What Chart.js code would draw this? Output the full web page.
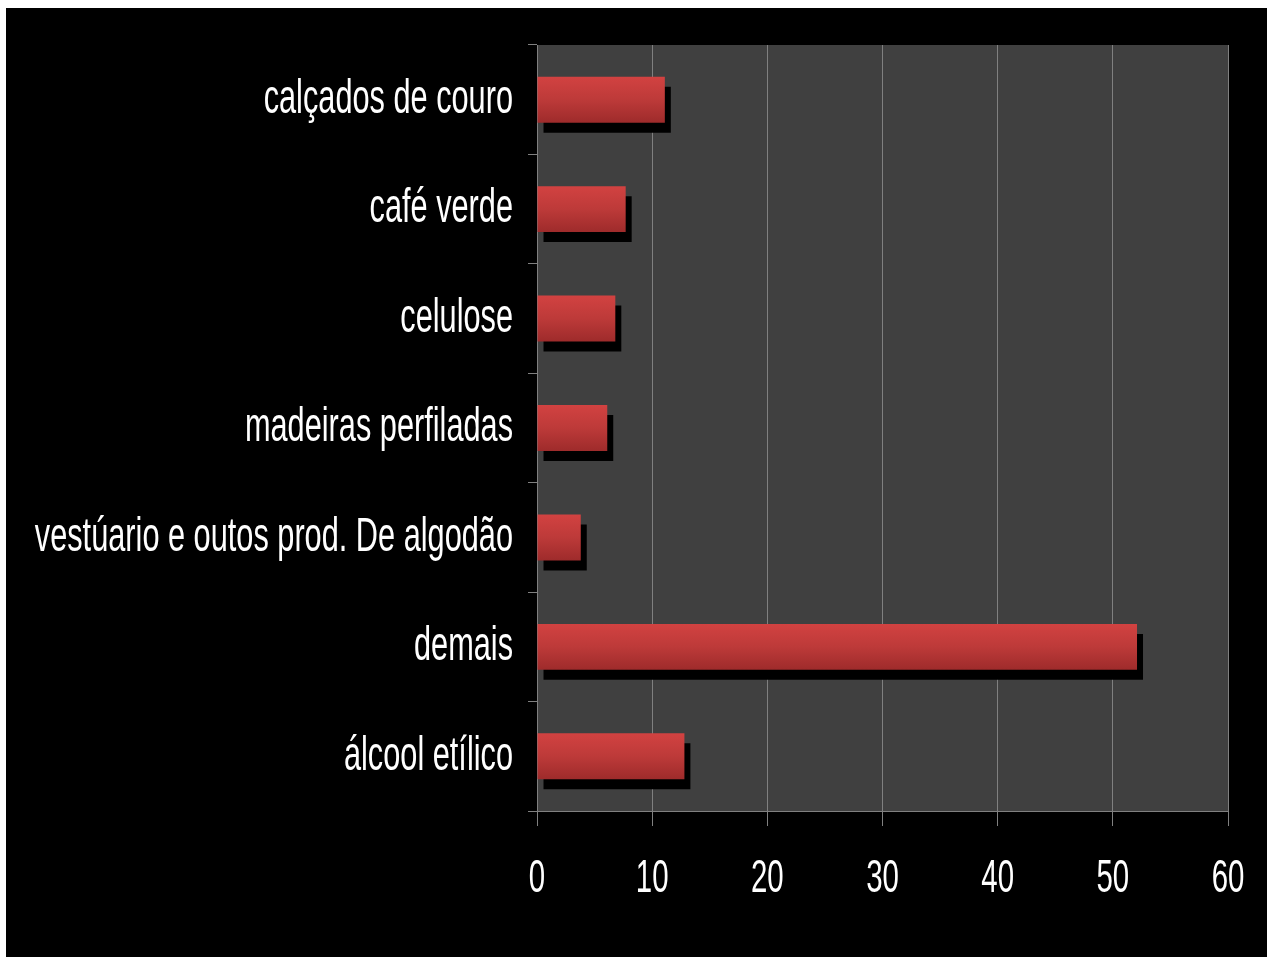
<!DOCTYPE html>
<html lang="pt">
<head>
<meta charset="utf-8">
<title>Exportações</title>
<script src="https://cdn.jsdelivr.net/npm/chart.js@4/dist/chart.umd.min.js"></script>
<style>
  html, body { margin: 0; padding: 0; background: #fff; }
  #wrap { position: absolute; left: 6px; top: 8px; width: 1261px; height: 949px; background: #000; }
</style>
</head>
<body>
<div id="wrap"><canvas id="grafico"></canvas></div>
<script>
const categorias = [
  "calçados de couro",
  "café verde",
  "celulose",
  "madeiras perfiladas",
  "vestúario e outos prod. De algodão",
  "demais",
  "álcool etílico"
];
const valores = [11.1, 7.7, 6.8, 6.1, 3.8, 52.1, 12.8];
const escalaX = [0, 10, 20, 30, 40, 50, 60];

const barPct = 0.42;
const fonte = "'Liberation Sans', Arial, sans-serif";
const estreito = 0.64; // compressão horizontal do texto (fonte condensada)
const cinza = "#808080";

// fundo cinza-escuro só na área de plotagem
const fundoArea = {
  id: "fundoArea",
  beforeDraw(chart) {
    const a = chart.chartArea, ctx = chart.ctx;
    ctx.save();
    ctx.fillStyle = "#404040";
    ctx.fillRect(a.left, a.top, a.right - a.left, a.bottom - a.top);
    ctx.restore();
  }
};

// texto condensado: estreita cada fillText em torno do ponto de ancoragem
const condensado = {
  id: "condensado",
  beforeDraw(chart) {
    const ctx = chart.ctx;
    const orig = CanvasRenderingContext2D.prototype.fillText;
    ctx.fillText = function (t, x, y) {
      this.save();
      this.translate(x, y);
      this.scale(estreito, 1);
      orig.call(this, t, 0, 0);
      this.restore();
    };
  },
  afterDraw(chart) {
    delete chart.ctx.fillText;
  }
};

// sombra preta deslocada atrás das barras
const sombra = {
  id: "sombra",
  beforeDatasetsDraw(chart) {
    const ctx = chart.ctx;
    ctx.save();
    ctx.shadowColor = "#000";
    ctx.shadowBlur = 0;
    ctx.shadowOffsetX = 6;
    ctx.shadowOffsetY = 10;
  },
  afterDatasetsDraw(chart) {
    chart.ctx.restore();
  }
};

function gradiente(c) {
  const chart = c.chart;
  const y = chart.scales.y;
  if (!y || c.dataIndex === undefined) return "#c03a3a";
  const meio = y.getPixelForValue(c.dataIndex);
  const meia = y.height / categorias.length * barPct / 2;
  if (!isFinite(meio) || !isFinite(meia) || meia <= 0) return "#c03a3a";
  const g = chart.ctx.createLinearGradient(0, meio - meia, 0, meio + meia);
  g.addColorStop(0, "#d24241");
  g.addColorStop(0.5, "#bd3a39");
  g.addColorStop(1, "#9e2b2b");
  return g;
}

new Chart(document.getElementById("grafico").getContext("2d"), {
  type: "bar",
  data: {
    labels: categorias,
    datasets: [{
      data: valores,
      backgroundColor: gradiente,
      borderWidth: 0,
      barPercentage: barPct,
      categoryPercentage: 1
    }]
  },
  options: {
    indexAxis: "y",
    responsive: true,
    maintainAspectRatio: false,
    animation: false,
    layout: { padding: { top: 37, right: 39, bottom: 0, left: 0 } },
    plugins: { legend: { display: false }, tooltip: { enabled: false } },
    scales: {
      x: {
        min: escalaX[0],
        max: escalaX[escalaX.length - 1],
        afterBuildTicks: s => { s.ticks = escalaX.map(v => ({ value: v })); },
        afterFit: s => { s.height = 146; s.paddingLeft = 0; s.paddingRight = 0; },
        grid: { color: cinza, lineWidth: 1, tickLength: 15, tickColor: cinza },
        border: { color: cinza, width: 1 },
        ticks: { color: "#fff", font: { family: fonte, size: 46 }, padding: 26, maxRotation: 0 }
      },
      y: {
        afterFit: s => { s.width = 531; s.paddingTop = 0; s.paddingBottom = 0; },
        grid: { offset: true, drawOnChartArea: false, tickLength: 9, color: cinza },
        border: { color: cinza, width: 1 },
        ticks: { color: "#fff", font: { family: fonte, size: 48 }, padding: 15, autoSkip: false }
      }
    }
  },
  plugins: [fundoArea, condensado, sombra]
});
</script>
</body>
</html>
